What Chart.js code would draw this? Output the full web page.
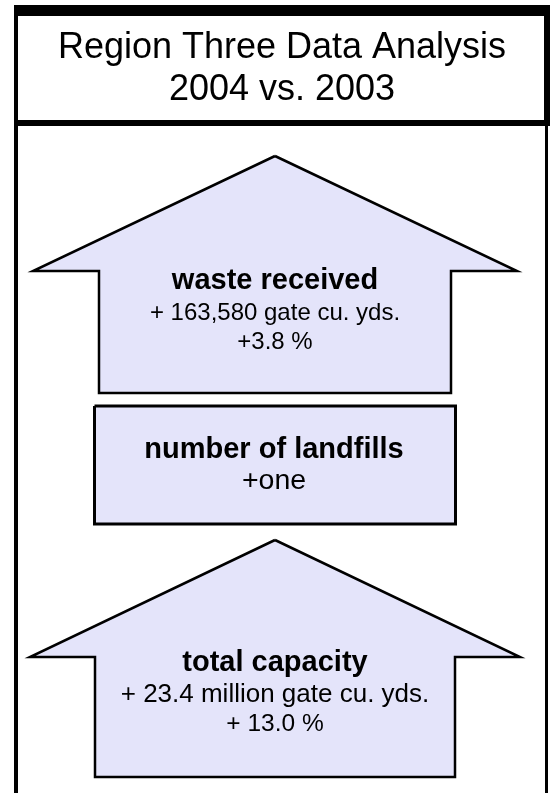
<!DOCTYPE html>
<html>
<head>
<meta charset="utf-8">
<script src="https://cdn.jsdelivr.net/npm/chart.js@4.4.0/dist/chart.umd.min.js"></script>
<style>
  html, body { margin: 0; padding: 0; background: #fff; }
  canvas { display: block; }
</style>
</head>
<body>
<canvas id="chart" width="550" height="793"></canvas>
<script>

var titleLines = ['Region Three Data Analysis', '2004 vs. 2003'];
var categories = ['waste received', 'number of landfills', 'total capacity'];
var changeAmounts = ['+ 163,580 gate cu. yds.', '+one', '+ 23.4 million gate cu. yds.'];
var changePercents = ['+3.8 %', '', '+ 13.0 %'];

// page layout, in pixels of the 550 x 793 picture
var fillColor = '#e4e4fa';
var shapes = [
    { kind: 'arrow', cx: 275, top: 156, shoulder: 271, bottom: 393, headHalf: 242, shaftHalf: 176, line: 2.5,
      baseline: 289, boldSize: 29, amountSize: 24, pctSize: 24 },
    { kind: 'box', cx: 274, left: 94.5, right: 455.5, top: 406, bottom: 524, line: 3,
      baseline: 458, boldSize: 29, amountSize: 28.5, pctSize: 24 },
    { kind: 'arrow', cx: 275, top: 540, shoulder: 657, bottom: 777, headHalf: 245, shaftHalf: 180, line: 2.5,
      baseline: 671, boldSize: 29, amountSize: 26, pctSize: 24.5 }
];
var frameLines = [
    { from: [14, 10.5], to: [550, 10.5], width: 11 },   // title box top
    { from: [16, 5], to: [16, 793], width: 4 },          // left edge
    { from: [14, 123], to: [550, 123], width: 6 },       // title box bottom
    { from: [547, 5], to: [547, 126], width: 6 },        // title box right
    { from: [546.5, 126], to: [546.5, 793], width: 3 }   // body right
];

function outline(s) {
    if (s.kind == 'box') {
        return [
            { x: s.left, y: s.top }, { x: s.right, y: s.top },
            { x: s.right, y: s.bottom }, { x: s.left, y: s.bottom }, { x: s.left, y: s.top }
        ];
    }
    return [
        { x: s.cx, y: s.top },
        { x: s.cx + s.headHalf, y: s.shoulder },
        { x: s.cx + s.shaftHalf, y: s.shoulder },
        { x: s.cx + s.shaftHalf, y: s.bottom },
        { x: s.cx - s.shaftHalf, y: s.bottom },
        { x: s.cx - s.shaftHalf, y: s.shoulder },
        { x: s.cx - s.headHalf, y: s.shoulder },
        { x: s.cx, y: s.top }
    ];
}

var datasets = [];
shapes.forEach(function(s, i) {
    datasets.push({
        label: categories[i],
        data: outline(s),
        fill: 'shape',
        backgroundColor: fillColor,
        borderColor: '#000',
        borderWidth: s.line,
        borderJoinStyle: 'miter',
        pointRadius: 0,
        tension: 0,
        clip: false
    });
});
frameLines.forEach(function(f) {
    datasets.push({
        data: [{ x: f.from[0], y: f.from[1] }, { x: f.to[0], y: f.to[1] }],
        fill: false,
        borderColor: '#000',
        borderWidth: f.width,
        borderCapStyle: 'butt',
        pointRadius: 0,
        clip: false
    });
});

var FONT = '"Liberation Sans", Arial, Helvetica, sans-serif';

var textPlugin = {
    id: 'infoText',
    afterDatasetsDraw: function(chart) {
        var ctx = chart.ctx;
        var sx = chart.scales.x, sy = chart.scales.y;
        ctx.save();
        ctx.fillStyle = '#000';
        ctx.textAlign = 'center';
        ctx.textBaseline = 'alphabetic';

        ctx.font = '36px ' + FONT;
        titleLines.forEach(function(t, i) {
            ctx.fillText(t, sx.getPixelForValue(282), sy.getPixelForValue(58 + i * 42));
        });

        shapes.forEach(function(s, i) {
            var cx = sx.getPixelForValue(s.cx);
            ctx.font = 'bold ' + s.boldSize + 'px ' + FONT;
            ctx.fillText(categories[i], cx, sy.getPixelForValue(s.baseline));
            ctx.font = s.amountSize + 'px ' + FONT;
            ctx.fillText(changeAmounts[i], cx, sy.getPixelForValue(s.baseline + 30.5));
            if (changePercents[i]) {
                ctx.font = s.pctSize + 'px ' + FONT;
                ctx.fillText(changePercents[i], cx, sy.getPixelForValue(s.baseline + 60));
            }
        });
        ctx.restore();
    }
};

var ctx = document.getElementById('chart').getContext('2d');
var chart = new Chart(ctx, {
    type: 'line',
    data: { datasets: datasets },
    options: {
        responsive: false,
        animation: false,
        events: [],
        layout: { padding: 0 },
        scales: {
            x: { type: 'linear', min: 0, max: 550, display: false },
            y: { type: 'linear', min: 0, max: 793, reverse: true, display: false }
        },
        plugins: {
            legend: { display: false },
            tooltip: { enabled: false },
            title: { display: false }
        }
    },
    plugins: [textPlugin]
});
</script>
</body>
</html>
